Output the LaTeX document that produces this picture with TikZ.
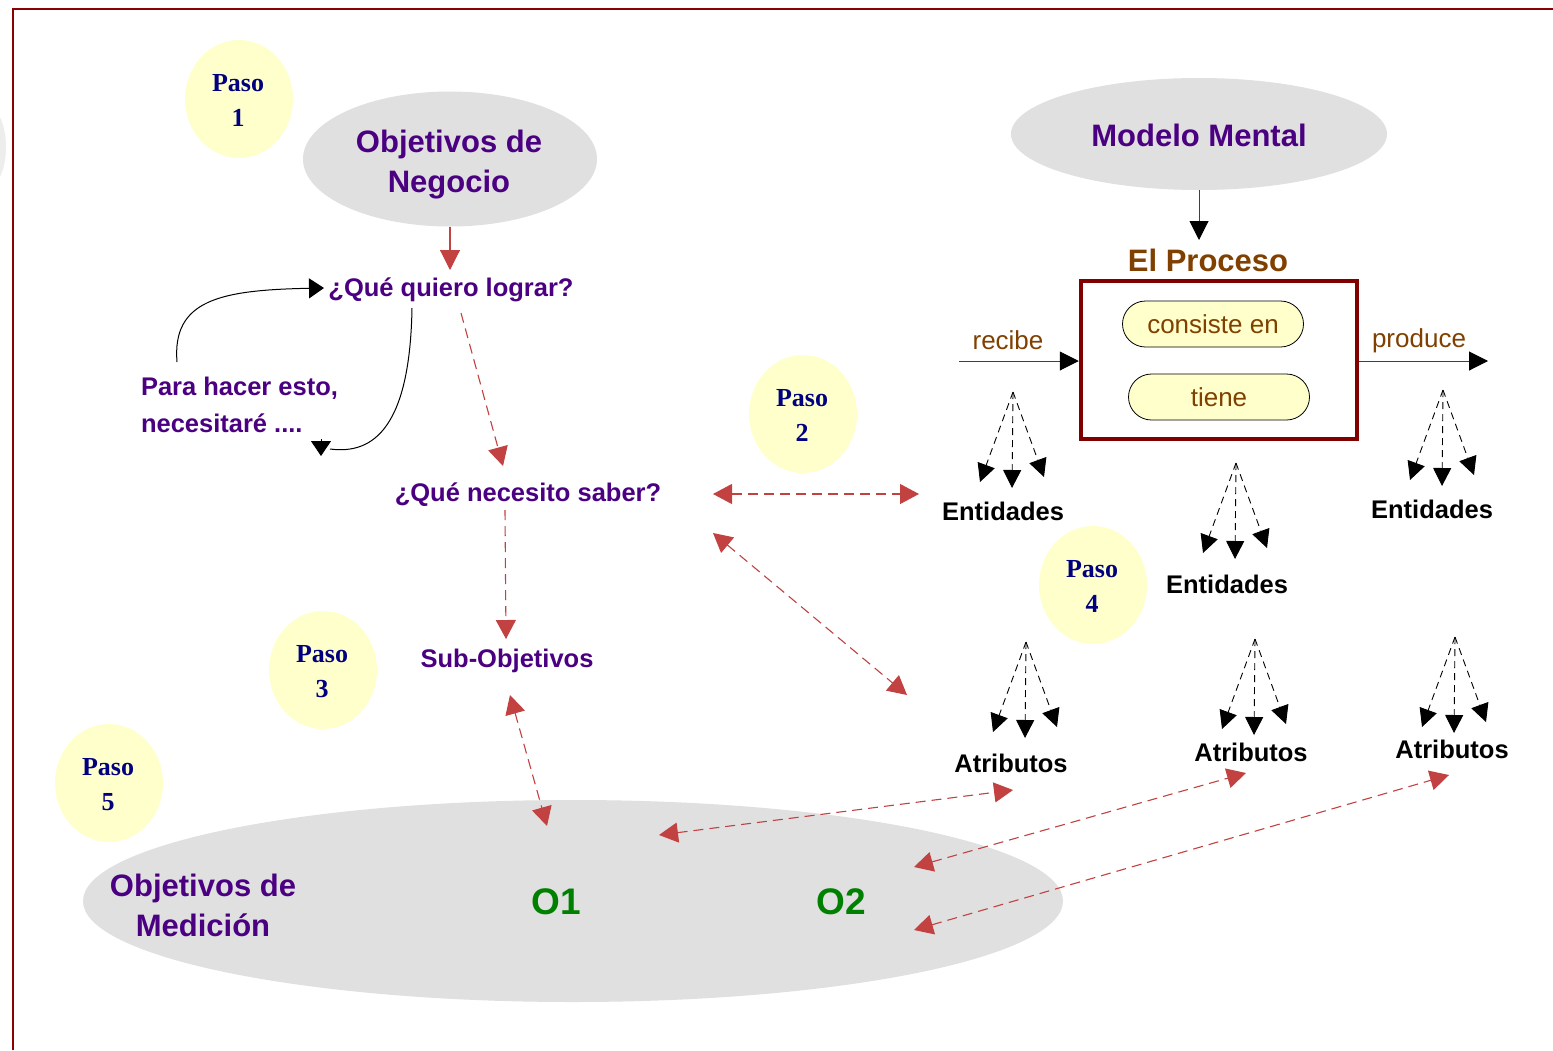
\documentclass[tikz,border=0pt]{standalone}
\usepackage{fontspec}
\setmainfont{Liberation Sans}
\newfontfamily\pasofont{Liberation Serif}
\usetikzlibrary{arrows.meta,shapes.geometric,shapes.misc,calc}

\definecolor{frameRed}{HTML}{8B0000}
\definecolor{boxRed}{HTML}{800000}
\definecolor{ideaPurple}{HTML}{4B0082}
\definecolor{pasoBlue}{HTML}{000080}
\definecolor{procBrown}{HTML}{804000}
\definecolor{noteYellow}{HTML}{FFFFCC}
\definecolor{cloudGray}{HTML}{E0E0E0}
\definecolor{linkRed}{HTML}{C24141}
\definecolor{objGreen}{HTML}{008000}

% three dashed arrows fanning out of one point
\newcommand{\entfan}[3]{%
  \coordinate (#1) at (#2,#3);
  \coordinate (#1l) at ($(#1)+(-33,90)$);
  \coordinate (#1m) at ($(#1)+(-1,96)$);
  \coordinate (#1r) at ($(#1)+(31,85)$);
  \draw[fanline] (#1) -- (#1l);
  \draw[fanline] (#1) -- (#1m);
  \draw[fanline] (#1) -- (#1r);}

\begin{document}
\begin{tikzpicture}[x=1pt,y=-1pt,
  every node/.style={inner sep=0pt, outer sep=0pt},
  cloud/.style={ellipse, fill=cloudGray},
  pasobubble/.style={ellipse, fill=noteYellow, minimum width=108pt, minimum height=118pt},
  pasotext/.style={font=\pasofont\bfseries\fontsize{26}{35}\selectfont, text=pasoBlue, align=center, anchor=base},
  bigtitle/.style={font=\bfseries\fontsize{31}{40}\selectfont, text=ideaPurple, align=center, anchor=base},
  question/.style={font=\bfseries\fontsize{25.5}{37}\selectfont, text=ideaPurple, anchor=base},
  item/.style={font=\bfseries\fontsize{25.5}{30}\selectfont, text=black, anchor=base},
  verb/.style={font=\fontsize{26}{30}\selectfont, text=procBrown, anchor=base},
  pill/.style={rounded rectangle, draw=black, line width=0.8pt, fill=noteYellow,
    minimum width=181pt, minimum height=46pt, font=\fontsize{26}{30}\selectfont, text=procBrown},
  redtip/.tip={Triangle[length=19pt,width=20pt]},
  redone/.style={draw=linkRed, line width=1.1pt, dash pattern=on 10pt off 6pt, -redtip},
  redtwo/.style={draw=linkRed, line width=1.1pt, dash pattern=on 10pt off 6pt, redtip-redtip},
  fanline/.style={draw=black, line width=0.9pt, dash pattern=on 7pt off 5pt, -{Triangle[length=18pt,width=18pt]}},
  blackarrow/.style={draw=black!75, line width=1pt, -{Triangle[length=19pt,width=19pt,color=black]}},
  curvearrow/.style={draw=black, line width=1pt},
  curvetip/.style={draw=black, line width=1pt, -{Triangle[length=15pt,width=20pt]}}
]
\useasboundingbox (0,0) rectangle (1553,1050);
\fill[white] (0,0) rectangle (1553,1050);

% faint shape cut by the left edge
\fill[black!7] (-10,147) ellipse [x radius=16pt, y radius=38pt];

% page frame
\draw[frameRed, line width=2.2pt] (12,8.7) -- (1553,8.7);
\draw[frameRed, line width=2.2pt] (13,8.7) -- (13,1050);

% gray idea clouds
\node[cloud, minimum width=294pt, minimum height=135pt] (obn) at (450,159) {};
\node[cloud, minimum width=376pt, minimum height=112pt] (mm) at (1199,134) {};
\node[cloud, minimum width=980pt, minimum height=202pt] (obm) at (573,901) {};

% step bubbles (multi-line labels sit on their last baseline)
\node[pasobubble] (p1) at (239,99) {};
\node[pasobubble] (p2) at (803,414) {};
\node[pasobubble] (p3) at (323,670) {};
\node[pasobubble] (p4) at (1093,585) {};
\node[pasobubble] (p5) at (109,783) {};
\node[pasotext] (p1t) at (238,126) {Paso\\1};
\node[pasotext] (p2t) at (802,441) {Paso\\2};
\node[pasotext] (p3t) at (322,697) {Paso\\3};
\node[pasotext] (p4t) at (1092,612) {Paso\\4};
\node[pasotext] (p5t) at (108,810) {Paso\\5};

% cloud titles
\node[bigtitle] (obnt) at (449,192) {Objetivos de\\Negocio};
\node[bigtitle] (mmt) at (1199,146) {Modelo Mental};
\node[bigtitle] (obmt) at (203,936) {Objetivos de\\Medición};
\node[font=\bfseries\fontsize{37}{40}\selectfont, text=objGreen] (o1) at (556,902) {O1};
\node[font=\bfseries\fontsize{37}{40}\selectfont, text=objGreen] (o2) at (841,902) {O2};

% questions
\node[question] (qql) at (451,296) {¿Qué quiero lograr?};
\node[question, align=left, anchor=base west] (para) at (141,432) {Para hacer esto,\\necesitaré ....};
\node[question] (qns) at (528,501) {¿Qué necesito saber?};
\node[question] (sub) at (507,667) {Sub-Objetivos};

% the process
\node[font=\bfseries\fontsize{31}{40}\selectfont, text=procBrown, anchor=base] (proct) at (1208,271) {El Proceso};
\node[draw=boxRed, line width=4.5pt, outer sep=2.25pt, minimum width=276pt, minimum height=158pt] (proc) at (1219,360) {};
\node[pill] (cons) at (1213,324) {consiste en};
\node[pill] (tiene) at (1219,397) {tiene};
\node[verb] (rec) at (1008,349) {recibe};
\node[verb] (prod) at (1419,347) {produce};

\coordinate (rin) at (959,361);
\coordinate (rout) at (1488,361);
\coordinate (procin) at (1199,240);
\draw[blackarrow] (rin) -- (rin -| proc.west);
\draw[blackarrow] (rout -| proc.east) -- (rout);
\draw[blackarrow] (mm.south) -- (procin);

% entities and attributes
\node[item] (ent1) at (1003,520) {Entidades};
\node[item] (ent2) at (1227,593) {Entidades};
\node[item] (ent3) at (1432,518) {Entidades};
\node[item] (att1) at (1011,772) {Atributos};
\node[item] (att2) at (1251,761) {Atributos};
\node[item] (att3) at (1452,758) {Atributos};

\entfan{fe1}{1013}{392}
\entfan{fe2}{1236}{463}
\entfan{fe3}{1443}{390}
\entfan{fa1}{1026}{642}
\entfan{fa2}{1255}{639}
\entfan{fa3}{1455}{637}

% business goal to first question
\coordinate (qqlin) at (450,270);
\draw[draw=linkRed, line width=1.1pt, -{Triangle[length=20pt,width=20pt]}] (obn.south) -- (qqlin);

% loop between the first question and its note
\coordinate (c1s) at (177,362);
\coordinate (c1e) at (324,288);
\draw[curvearrow, -{Triangle[length=15pt,width=20pt]}] (c1s) .. controls (172,300) and (220,290) .. (c1e);
\coordinate (c2s) at (412,308);
\coordinate (c2m) at (330,449);
\coordinate (c2b) at (321,439);
\coordinate (c2e) at (321,456);
\draw[curvearrow] (c2s) .. controls (410,425) and (375,455) .. (c2m);
\draw[curvetip] (c2b) -- (c2e);

% dashed red links
\coordinate (l1a) at (461,313);   \coordinate (l1b) at (503,466);
\coordinate (l2a) at (505,510);   \coordinate (l2b) at (506,639);
\coordinate (l3a) at (713,494);   \coordinate (l3b) at (919,494);
\coordinate (l4a) at (713,533);   \coordinate (l4b) at (907,695);
\coordinate (l5a) at (510,695);   \coordinate (l5b) at (547,826);
\coordinate (l6a) at (659,835);   \coordinate (l6b) at (1013,790);
\coordinate (l7a) at (914,867);   \coordinate (l7b) at (1246,773);
\coordinate (l8a) at (914,930);   \coordinate (l8b) at (1449,775);
\draw[redone] (l1a) -- (l1b);
\draw[redone] (l2a) -- (l2b);
\draw[redtwo] (l3a) -- (l3b);
\draw[redtwo] (l4a) -- (l4b);
\draw[redtwo] (l5a) -- (l5b);
\draw[redtwo] (l6a) -- (l6b);
\draw[redtwo] (l7a) -- (l7b);
\draw[redtwo] (l8a) -- (l8b);
\end{tikzpicture}
\end{document}
